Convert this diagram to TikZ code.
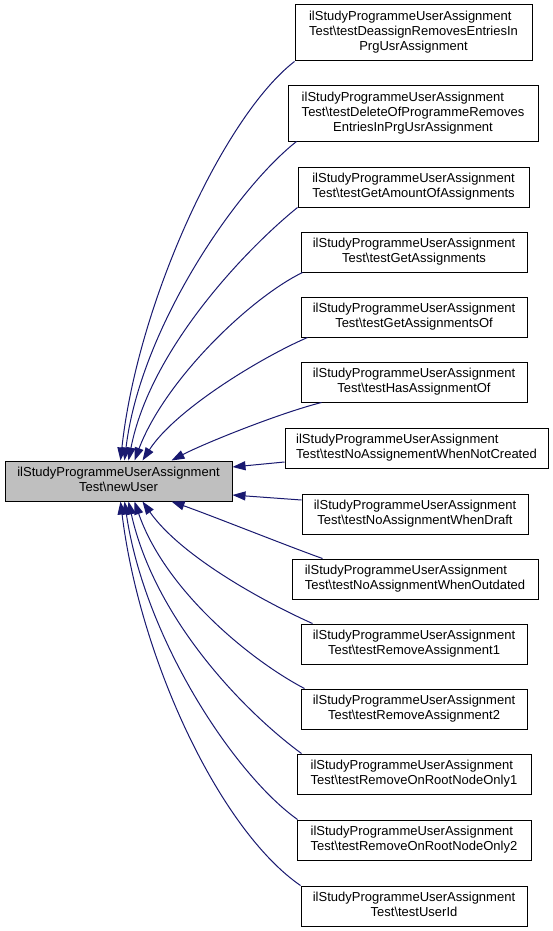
\documentclass[tikz,border=0pt]{standalone}
\usepackage{fontspec}
\setmainfont{Liberation Sans}
\usetikzlibrary{arrows.meta,calc}
\definecolor{edgeblue}{HTML}{191970}
\definecolor{maingray}{HTML}{BFBFBF}
\newcommand\labtwo[2]{\begin{tabular}{@{}l@{}}#1\\\multicolumn{1}{@{}c@{}}{#2}\end{tabular}}
\newcommand\labthree[3]{\begin{tabular}{@{}l@{}}#1\\#2\\\multicolumn{1}{@{}c@{}}{#3}\end{tabular}}
\newcommand\clsname{ilStudyProgrammeUserAssignment}
\newcommand\tst[1]{Test\textbackslash #1}
\begin{document}
\begin{tikzpicture}[x=1pt,y=-1pt,
  box/.style={draw=black, fill=white, line width=1pt, inner sep=0pt,
    font=\fontsize{13}{15}\selectfont, minimum height=40pt},
  mainbox/.style={box, fill=maingray},
  dep/.style={draw=edgeblue, line width=1pt, -{Triangle[length=13pt,width=9pt]}}]
\fill[white] (0,0) rectangle (553,931);
\useasboundingbox (0,0) rectangle (553,931);

\node[mainbox, minimum width=227pt] (main) at (118.5,481) {\labtwo{\clsname}{\tst{newUser}}};

\node[box, minimum width=237pt, minimum height=56pt] (b1) at (413.5,33) {\labthree{\clsname}{\tst{testDeassignRemovesEntriesIn}}{PrgUsrAssignment}};
\node[box, minimum width=250pt, minimum height=55pt] (b2) at (413,113.5) {\labthree{\clsname}{\tst{testDeleteOfProgrammeRemoves}}{EntriesInPrgUsrAssignment}};
\node[box, minimum width=231pt] (b3) at (413.5,187) {\labtwo{\clsname}{\tst{testGetAmountOfAssignments}}};
\node[box, minimum width=226pt] (b4) at (414,252) {\labtwo{\clsname}{\tst{testGetAssignments}}};
\node[box, minimum width=226pt] (b5) at (414,317) {\labtwo{\clsname}{\tst{testGetAssignmentsOf}}};
\node[box, minimum width=226pt] (b6) at (414,382) {\labtwo{\clsname}{\tst{testHasAssignmentOf}}};
\node[box, minimum width=263pt] (b7) at (416.5,448) {\labtwo{\clsname}{\tst{testNoAssignementWhenNotCreated}}};
\node[box, minimum width=226pt] (b8) at (415,514) {\labtwo{\clsname}{\tst{testNoAssignmentWhenDraft}}};
\node[box, minimum width=246pt] (b9) at (415,579) {\labtwo{\clsname}{\tst{testNoAssignmentWhenOutdated}}};
\node[box, minimum width=226pt] (b10) at (414,644) {\labtwo{\clsname}{\tst{testRemoveAssignment1}}};
\node[box, minimum width=226pt] (b11) at (414,709) {\labtwo{\clsname}{\tst{testRemoveAssignment2}}};
\node[box, minimum width=234pt] (b12) at (414,774) {\labtwo{\clsname}{\tst{testRemoveOnRootNodeOnly1}}};
\node[box, minimum width=234pt] (b13) at (414,840) {\labtwo{\clsname}{\tst{testRemoveOnRootNodeOnly2}}};
\node[box, minimum width=226pt] (b14) at (414,906) {\labtwo{\clsname}{\tst{testUserId}}};

% upper edges
\draw[dep] (b1.south west) .. controls (225,115) and (138,300) .. ($(main.north west)+(116,0)$);
\draw[dep] ($(b2.south west)+(9,0)$) .. controls (235,190) and (140,330) .. ($(main.north west)+(120,0)$);
\draw[dep] (b3.south west) .. controls (245,250) and (150,350) .. ($(main.north west)+(124,0)$);
\draw[dep] ($(b4.south west)+(2,0)$) .. controls (250,298) and (165,380) .. ($(main.north west)+(130,0)$);
\draw[dep] ($(b5.south west)+(7,0)$) .. controls (260,358) and (175,410) .. ($(main.north west)+(138,0)$);
\draw[dep] ($(b6.south west)+(21,0)$) .. controls (280,413) and (205,443) .. ($(main.north west)+(167,0)$);
% side edges
\draw[dep] ($(b7.west)+(0,14)$) -- ($(main.east)+(0,-14)$);
\draw[dep] ($(b8.west)+(0,-14)$) -- ($(main.east)+(0,14)$);
% lower edges
\draw[dep] ($(b9.north west)+(31,0)$) .. controls (290,547) and (210,515) .. ($(main.south west)+(167,0)$);
\draw[dep] ($(b10.north west)+(12,0)$) .. controls (260,600) and (180,555) .. ($(main.south west)+(138,0)$);
\draw[dep] ($(b11.north west)+(4,0)$) .. controls (250,660) and (165,590) .. ($(main.south west)+(130,0)$);
\draw[dep] ($(b12.north west)+(5,0)$) .. controls (245,712) and (155,620) .. ($(main.south west)+(124,0)$);
\draw[dep] ($(b13.north west)+(1,0)$) .. controls (235,775) and (145,640) .. ($(main.south west)+(120,0)$);
\draw[dep] (b14.north west) .. controls (220,830) and (140,660) .. ($(main.south west)+(116,0)$);
\end{tikzpicture}
\end{document}
